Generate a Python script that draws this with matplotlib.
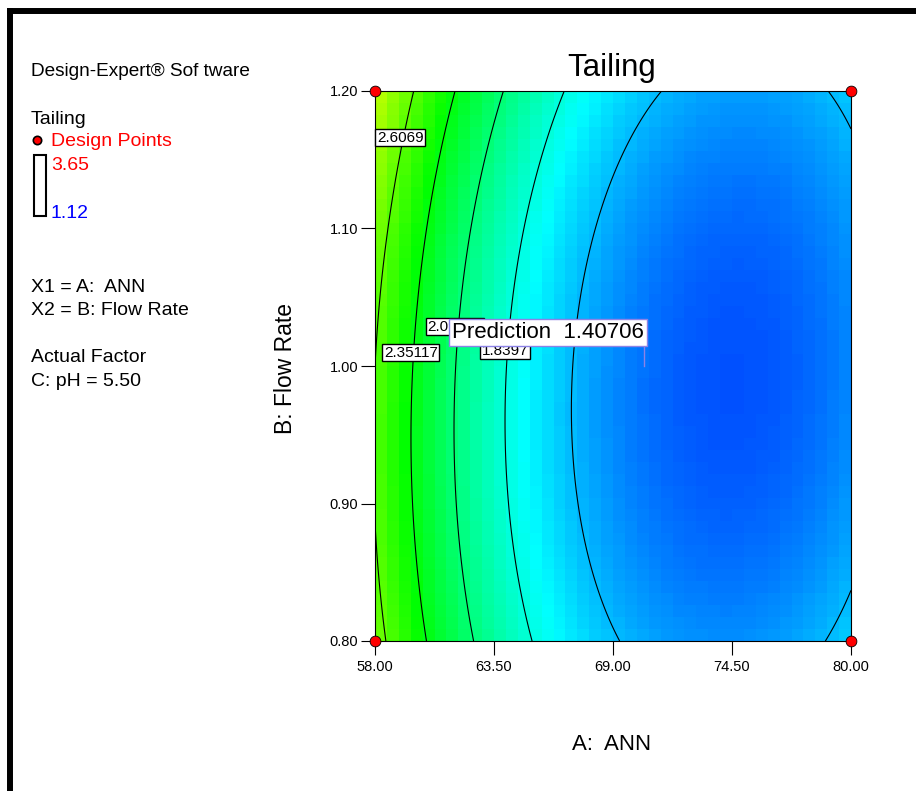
import numpy as np
import matplotlib
matplotlib.use("Agg")
import matplotlib.pyplot as plt
from matplotlib.colors import LinearSegmentedColormap, Normalize
from matplotlib.lines import Line2D
from matplotlib.patches import Rectangle

plt.rcParams['font.family'] = ['Liberation Sans', 'DejaVu Sans']

# factor ranges
A_range = [58.0, 80.0]
B_range = [0.80, 1.20]
x_ticks = [58.00, 63.50, 69.00, 74.50, 80.00]
y_ticks = [0.80, 0.90, 1.00, 1.10, 1.20]

# quadratic model in coded units: b0, A, B, AB, A^2, B^2
coef = [1.471, -0.572, 0.045, -0.053, 0.564, 0.172]

# contour levels and where their labels sit (A, B)
levels = [1.58398, 1.8397, 2.09543, 2.35117, 2.6069]
label_text = ['2.6069', '2.35117', '2.09543', '1.8397']
label_pos = [(59.16, 1.166), (59.66, 1.0095), (61.70, 1.0284), (64.01, 1.011)]

# colour legend range
y_low, y_high = 1.12, 3.65

# design points
design_A = [58.0, 58.0, 80.0, 80.0]
design_B = [0.80, 1.20, 0.80, 1.20]

# prediction flag
pred_A, pred_B = 70.43, 1.00
pred_value = '1.40706'


def model(A, B):
    a = (A - 69.0) / 11.0
    b = (B - 1.0) / 0.2
    return (coef[0] + coef[1] * a + coef[2] * b + coef[3] * a * b
            + coef[4] * a ** 2 + coef[5] * b ** 2)


cmap = LinearSegmentedColormap.from_list(
    'de', ['#0000ff', '#00ffff', '#00ff00', '#ffff00', '#ff0000'])

fig = plt.figure(figsize=(9.16, 7.91), dpi=100)
ax = fig.add_axes([375 / 916, 1 - 641 / 791, 476 / 916, 550 / 791])

# blocky colour field
ea = np.linspace(A_range[0], A_range[1], 41)
eb = np.linspace(B_range[0], B_range[1], 47)
ca = (ea[:-1] + ea[1:]) / 2
cb = (eb[:-1] + eb[1:]) / 2
CA, CB = np.meshgrid(ca, cb)
ax.pcolormesh(ea, eb, model(CA, CB), cmap=cmap,
              norm=Normalize(y_low, y_high), shading='flat')

# smooth contour lines
fa = np.linspace(A_range[0], A_range[1], 300)
fb = np.linspace(B_range[0], B_range[1], 300)
FA, FB = np.meshgrid(fa, fb)
ax.contour(FA, FB, model(FA, FB), levels=levels, colors='black', linewidths=0.8)

for t, (xa, yb) in zip(label_text, label_pos):
    ax.text(xa, yb, t, fontsize=11, ha='center', va='center', zorder=5,
            bbox=dict(boxstyle='square,pad=0.1', fc='white', ec='black', lw=1))

ax.scatter(design_A, design_B, s=60, c='red', edgecolors='black',
           linewidths=0.6, zorder=10, clip_on=False)

# prediction flag (box sits on top of the 2.09543 label, as in Design-Expert)
flag_h = 23 / 1375
ax.plot([pred_A, pred_A], [pred_B, pred_B + flag_h], color='#8c82e6',
        lw=1, zorder=6)
ax.text(pred_A, pred_B + flag_h, 'Prediction  ' + pred_value, fontsize=16,
        ha='right', va='bottom', zorder=7,
        bbox=dict(boxstyle='square,pad=0.12', fc='white', ec='#8c82e6', lw=1))

ax.set_xlim(A_range)
ax.set_ylim(B_range)
ax.set_xticks(x_ticks)
ax.set_yticks(y_ticks)
ax.set_xticklabels(['%.2f' % v for v in x_ticks])
ax.set_yticklabels(['%.2f' % v for v in y_ticks])
ax.tick_params(direction='out', length=10, width=0.8, labelsize=10.5)
ax.tick_params(axis='y', pad=2)
ax.tick_params(axis='x', pad=4)
for s in ax.spines.values():
    s.set_linewidth(0.8)

fig.text(612 / 916, 1 - 68 / 791, 'Tailing', fontsize=22.5, ha='center', va='center')
fig.text(612 / 916, 1 - 745 / 791, 'A:  ANN', fontsize=16, ha='center', va='center')
fig.text(285 / 916, 1 - 368 / 791, 'B: Flow Rate', fontsize=16.5, rotation=90,
         ha='center', va='center')

# left info panel
fs = 14
fig.text(31 / 916, 1 - 71 / 791, 'Design-Expert® Sof tware', fontsize=13.7, va='center')
fig.text(31 / 916, 1 - 119 / 791, 'Tailing', fontsize=fs, va='center')
fig.text(51 / 916, 1 - 142 / 791, 'Design Points', fontsize=fs, color='red', va='center')
fig.text(51 / 916, 1 - 166 / 791, '%.2f' % y_high, fontsize=fs, color='red', va='center')
fig.text(51 / 916, 1 - 213 / 791, '%.2f' % y_low, fontsize=fs, color='blue', va='center')
fig.text(31 / 916, 1 - 287 / 791, 'X1 = A:  ANN', fontsize=fs, va='center')
fig.text(31 / 916, 1 - 310 / 791, 'X2 = B: Flow Rate', fontsize=fs, va='center')
fig.text(31 / 916, 1 - 358 / 791, 'Actual Factor', fontsize=fs, va='center')
fig.text(31 / 916, 1 - 381 / 791, 'C: pH = 5.50', fontsize=fs, va='center')

fig.add_artist(Line2D([37 / 916], [1 - 140 / 791], marker='o', markersize=6,
                      markerfacecolor='red', markeredgecolor='black',
                      markeredgewidth=1.2, transform=fig.transFigure))
fig.add_artist(Rectangle((34 / 916, 1 - 216 / 791), 12 / 916, 61 / 791,
                         fill=False, ec='black', lw=1.5, transform=fig.transFigure))

# outer frame (top and left)
fig.add_artist(Line2D([7 / 916, 1.0], [1 - 11 / 791, 1 - 11 / 791], color='black',
                      lw=4.3, transform=fig.transFigure, solid_capstyle='butt'))
fig.add_artist(Line2D([10 / 916, 10 / 916], [1 - 8 / 791, 0.0], color='black',
                      lw=4.3, transform=fig.transFigure, solid_capstyle='butt'))

fig.savefig('out.png', dpi=100)
